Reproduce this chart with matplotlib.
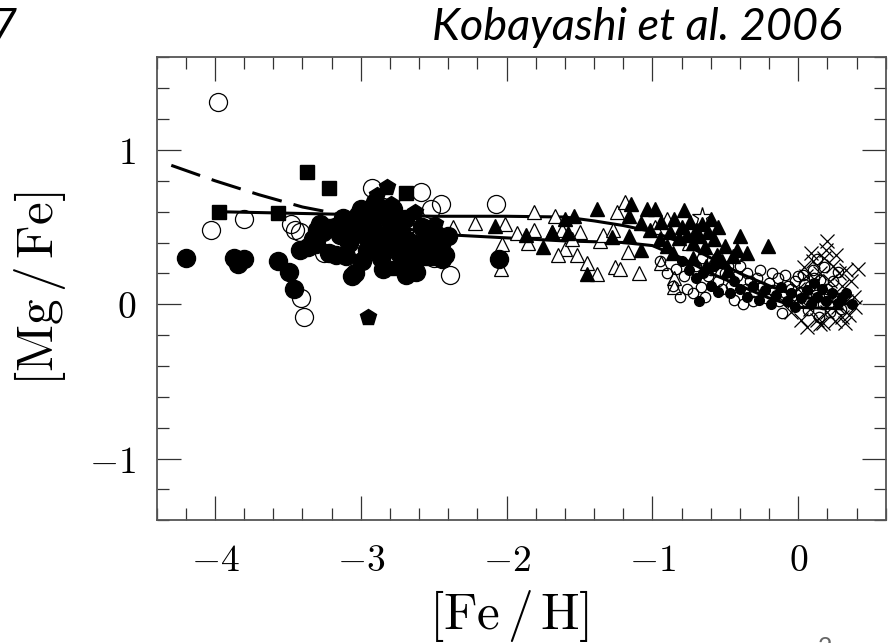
import numpy as np
import matplotlib
matplotlib.use("Agg")
import matplotlib.pyplot as plt

plt.rcParams["mathtext.fontset"] = "cm"

# ------------------
# model curves
# ------------------
solid1_x = [-4.0, -3.5, -3.0, -2.5, -2.0, -1.6, -1.4, -1.2, -1.0, -0.8, -0.6, -0.4, -0.2, 0.0, 0.2, 0.35]
solid1_y = [0.60, 0.59, 0.58, 0.57, 0.57, 0.565, 0.54, 0.51, 0.47, 0.40, 0.30, 0.20, 0.12, 0.05, 0.02, 0.0]
solid2_x = [-2.7, -2.4, -2.0, -1.6, -1.2, -1.0, -0.8, -0.6, -0.4, -0.2, 0.0, 0.3]
solid2_y = [0.49, 0.45, 0.43, 0.41, 0.40, 0.38, 0.30, 0.20, 0.12, 0.04, -0.02, -0.03]
dashed_x = [-4.3, -4.0, -3.7, -3.4, -3.1]
dashed_y = [0.90, 0.80, 0.71, 0.63, 0.575]

# ------------------
# observations
# ------------------
fc_x = [-4.20, -3.87, -3.84, -3.80, -3.57, -3.49, -3.46, -3.42, -3.36, -3.33, -3.30, -3.28, -3.31,
        -3.22, -3.17, -3.10, -3.04, -3.08, -3.05, -3.02, -3.00, -2.98, -2.96, -2.95, -2.92, -2.90,
        -2.88, -2.86, -2.85, -2.84, -2.82, -2.80, -2.78, -2.76, -2.74, -2.72, -2.69, -2.68, -2.65,
        -2.62, -2.60, -2.58, -2.55, -2.52, -2.48, -2.45, -2.42, -2.40, -2.05, -3.14, -3.12, -2.99,
        -2.93, -2.70, -3.06, -3.26, -3.18, -2.87, -2.64, -2.44]
fc_y = [0.30, 0.30, 0.26, 0.29, 0.28, 0.21, 0.10, 0.35, 0.37, 0.42, 0.48, 0.52, 0.39,
        0.33, 0.32, 0.31, 0.20, 0.40, 0.52, 0.58, 0.62, 0.45, 0.35, 0.55, 0.50, 0.66,
        0.40, 0.30, 0.23, 0.57, 0.46, 0.38, 0.62, 0.52, 0.33, 0.45, 0.19, 0.29, 0.40,
        0.21, 0.33, 0.50, 0.42, 0.36, 0.45, 0.39, 0.32, 0.44, 0.29, 0.45, 0.56, 0.28,
        0.38, 0.55, 0.18, 0.47, 0.50, 0.60, 0.27, 0.29]

oc_x = [-3.98, -4.03, -3.80, -3.48, -3.45, -3.42, -3.41, -3.39, -2.92, -2.59, -2.52, -2.45,
        -2.39, -2.07, -3.00, -2.85, -2.70, -2.55, -3.25, -2.50]
oc_y = [1.31, 0.48, 0.555, 0.52, 0.48, 0.47, 0.04, -0.08, 0.75, 0.73, 0.62, 0.65,
        0.19, 0.65, 0.42, 0.63, 0.50, 0.48, 0.33, 0.30]

sq_x = [-3.97, -3.57, -3.37, -3.22, -3.20, -2.69, -2.69, -2.71, -2.75, -2.53, -3.05, -2.95]
sq_y = [0.60, 0.59, 0.86, 0.75, 0.51, 0.72, 0.42, 0.37, 0.235, 0.30, 0.46, 0.40]

pent_x = [-2.95, -2.82, -2.89, -2.79, -2.63, -2.49, -2.52, -2.98]
pent_y = [-0.08, 0.76, 0.71, 0.65, 0.60, 0.52, 0.42, 0.60]

ot_x = [-2.37, -2.22, -2.01, -2.03, -2.04, -1.93, -1.85, -1.81, -1.81, -1.67, -1.69, -1.62,
        -1.60, -1.65, -1.52, -1.45, -1.38, -1.26, -1.22, -1.09, -1.36, -1.34, -1.27, -1.24,
        -1.19, -1.17, -0.94, -0.85, -0.85, -1.50, -1.55, -0.98, -0.90, -0.80, -0.75]
ot_y = [0.50, 0.525, 0.52, 0.39, 0.23, 0.46, 0.40, 0.60, 0.48, 0.57, 0.47, 0.48,
        0.355, 0.32, 0.32, 0.27, 0.195, 0.24, 0.23, 0.20, 0.41, 0.45, 0.48, 0.60,
        0.66, 0.34, 0.27, 0.17, 0.11, 0.47, 0.42, 0.50, 0.55, 0.45, 0.40]

ft_x = [-2.08, -1.87, -1.75, -1.69, -1.60, -1.58, -1.54, -1.45, -1.38, -1.28, -1.16, -1.15,
        -1.16, -1.075, -1.04, -0.98, -1.02, -1.08, -0.94, -0.88, -0.85, -0.82, -0.80, -0.78,
        -0.76, -0.74, -0.72, -0.70, -0.68, -0.66, -0.64, -0.62, -0.60, -0.58, -0.56, -0.55,
        -0.52, -0.50, -0.45, -0.42, -0.40, -0.35, -0.21, -0.90, -0.86, -0.95, -0.72, -0.63, -0.48]
ft_y = [0.51, 0.45, 0.37, 0.47, 0.55, 0.46, 0.57, 0.195, 0.62, 0.435, 0.57, 0.65,
        0.44, 0.525, 0.62, 0.62, 0.48, 0.35, 0.53, 0.47, 0.55, 0.43, 0.50, 0.61,
        0.45, 0.53, 0.40, 0.48, 0.44, 0.52, 0.37, 0.47, 0.55, 0.42, 0.32, 0.50,
        0.28, 0.38, 0.31, 0.35, 0.44, 0.33, 0.375, 0.38, 0.33, 0.42, 0.30, 0.25, 0.22]

soc_x = [-0.84, -0.72, -0.67, -0.62, -0.58, -0.55, -0.50, -0.46, -0.42, -0.38, -0.36, -0.33,
         -0.30, -0.28, -0.25, -0.22, -0.20, -0.17, -0.14, -0.11, -0.10, -0.07, -0.04, -0.02,
         0.01, 0.03, 0.05, 0.08, 0.10, 0.12, 0.15, 0.17, 0.20, 0.22, 0.25, -0.95, -0.78,
         -0.66, -0.52, -0.40, -0.90, -0.86, -0.81, -0.76, -0.70, -0.64, -0.60, -0.56, -0.48,
         -0.44, -0.35, -0.31, -0.26, -0.18, -0.13, -0.09, -0.05, 0.00, 0.04, 0.07, 0.11,
         0.14, 0.18, 0.21, 0.24, 0.27, 0.29, 0.13]
soc_y = [0.23, 0.07, 0.11, 0.18, 0.26, 0.15, 0.20, 0.12, 0.18, 0.00, 0.10, 0.15,
         0.08, 0.17, 0.11, 0.04, 0.14, 0.09, 0.17, -0.06, 0.06, 0.12, 0.03, 0.15,
         0.08, 0.19, 0.02, 0.12, 0.22, 0.06, 0.16, 0.00, 0.10, -0.05, 0.05, 0.28, 0.18,
         0.30, 0.10, 0.25, 0.20, 0.12, 0.05, 0.10, 0.25, 0.05, 0.22, 0.30, 0.25,
         0.03, 0.20, 0.02, 0.22, 0.20, 0.02, 0.19, 0.10, 0.18, 0.13, -0.04, 0.17,
         -0.08, 0.24, 0.06, 0.15, 0.21, -0.03, 0.29]

sfc_x = [-0.80, -0.75, -0.70, -0.65, -0.60, -0.55, -0.47, -0.44, -0.40, -0.35, -0.31, -0.27,
         -0.23, -0.19, -0.15, -0.12, -0.08, -0.05, -0.02, 0.02, 0.06, 0.09, 0.13, 0.16,
         0.19, 0.23, 0.27, 0.30, 0.33, 0.37, 0.11, -0.58, -0.68]
sfc_y = [0.28, 0.22, 0.17, 0.20, 0.12, 0.08, 0.07, 0.15, 0.10, 0.05, 0.12, 0.03,
         0.09, 0.00, 0.06, 0.11, 0.02, 0.07, -0.02, 0.04, 0.09, 0.00, 0.05, 0.10,
         0.02, 0.07, 0.01, 0.05, 0.07, 0.00, 0.14, 0.25, 0.02]

cr_x = [0.20, 0.41, 0.06, 0.13, 0.17, 0.25, 0.30, 0.35, 0.10, 0.18, 0.24, 0.28,
        0.22, 0.15, 0.30, 0.33, 0.05, 0.00, 0.08, 0.27, 0.12, -0.03, 0.36, 0.02,
        0.15, 0.20, 0.32, 0.38, 0.04, 0.19, 0.26, 0.12, 0.09, 0.33, 0.39, -0.05]
cr_y = [0.41, 0.23, -0.15, -0.10, -0.12, -0.11, -0.08, -0.07, 0.28, 0.30, 0.25, 0.20,
        0.15, 0.20, 0.12, 0.02, 0.18, 0.10, -0.03, -0.02, 0.05, 0.02, 0.15, -0.10,
        -0.13, -0.05, -0.12, 0.05, 0.24, 0.35, 0.32, 0.15, 0.33, 0.22, -0.02, -0.05]

star_x = [-0.66]
star_y = [0.565]

x_ticks = [-4, -3, -2, -1, 0]
x_labels = ["$-4$", "$-3$", "$-2$", "$-1$", "$0$"]
y_ticks = [-1, 0, 1]
y_labels = ["$-1$", "$0$", "$1$"]

W, H = 890, 643
fig = plt.figure(figsize=(W / 100, H / 100), dpi=100)
ax = fig.add_axes([156.7 / W, 1 - 520.3 / H, (885.7 - 156.7) / W, (520.3 - 57.3) / H])

ink = "black"
ax.plot(solid1_x, solid1_y, color=ink, lw=2.2, zorder=1)
ax.plot(solid2_x, solid2_y, color=ink, lw=2.2, zorder=1)
ax.plot(dashed_x, dashed_y, color=ink, lw=2.2, dashes=(10, 4), zorder=1)

ax.plot(oc_x, oc_y, "o", ms=13, mfc="none", mec=ink, mew=0.9, zorder=2)
ax.plot(ot_x, ot_y, "^", ms=10.5, mfc="white", mec=ink, mew=0.9, zorder=2)
ax.plot(soc_x, soc_y, "o", ms=7.5, mfc="none", mec=ink, mew=0.9, zorder=2)
ax.plot(cr_x, cr_y, "x", ms=10.5, mec=ink, mew=0.9, zorder=2)
ax.plot(star_x, star_y, "*", ms=15, mfc="white", mec=ink, mew=0.9, zorder=2)
ax.plot(ft_x, ft_y, "^", ms=10, color=ink, zorder=3)
ax.plot(sfc_x, sfc_y, "o", ms=7, color=ink, zorder=3)
ax.plot(fc_x, fc_y, "o", ms=13, color=ink, zorder=3)
ax.plot(sq_x, sq_y, "s", ms=9.5, color=ink, zorder=3)
ax.plot(pent_x, pent_y, "p", ms=12, color=ink, zorder=3)

ax.set_xlim(-4.4, 0.6)
ax.set_ylim(-1.4, 1.6)
ax.set_xticks(x_ticks)
ax.set_xticklabels(x_labels)
ax.set_yticks(y_ticks)
ax.set_yticklabels(y_labels)
ax.set_xticks(np.arange(-4.4, 0.61, 0.2), minor=True)
ax.set_yticks(np.arange(-1.4, 1.61, 0.2), minor=True)

frame = "#555555"
for sp in ax.spines.values():
    sp.set_color(frame)
    sp.set_linewidth(1.3)
ax.tick_params(which="both", direction="in", top=True, right=True, color="#333333", width=0.9)
ax.tick_params(which="major", length=17.3, labelsize=27)
ax.tick_params(which="minor", length=8.6)
ax.tick_params(axis="x", which="major", pad=16)
ax.tick_params(axis="y", which="major", pad=15)

ax.set_xlabel(r"$\left[\mathrm{Fe}\,/\,\mathrm{H}\right]$", fontsize=37)
ax.xaxis.set_label_coords((509 - 156.7) / 729, (520.3 - 588) / 463)
ax.set_ylabel(r"$\left[\mathrm{Mg}\,/\,\mathrm{Fe}\right]$", fontsize=37)
ax.yaxis.set_label_coords((68 - 156.7) / 729, 0.5)

fig.text(842 / W, 1 - 40 / H, "Kobayashi et al. 2006", family="Lato", style="italic",
         fontsize=32.5, ha="right", va="baseline")
fig.text(17 / W, 1 - 40 / H, "7", family="Lato", style="italic",
         fontsize=32.5, ha="right", va="baseline")
fig.text(825 / W, 1 - 636 / H, "2", family="Lato", color="#666666",
         fontsize=18, ha="center", va="top")

fig.savefig("out.png", dpi=100)
